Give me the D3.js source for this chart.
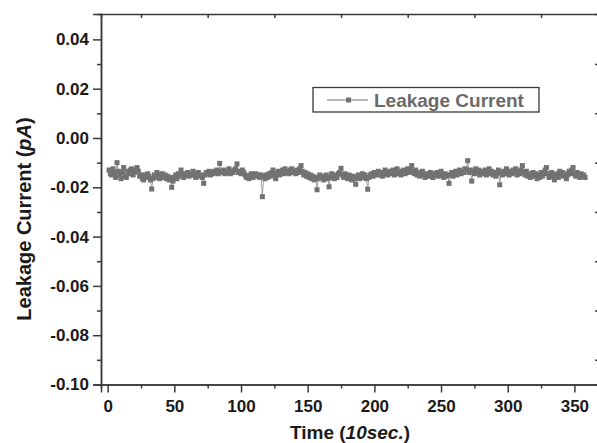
<!DOCTYPE html>
<html>
<head>
<meta charset="utf-8">
<script src="https://cdn.jsdelivr.net/npm/d3@7"></script>
<style>
  body { margin: 0; background: #fff; }
  svg { display: block; font-family: "Liberation Sans", Arial, sans-serif; }
  .axis path, .axis line { stroke: #3a3a3a; stroke-width: 1.5px; }
  .axis text { font-size: 17px; font-weight: bold; fill: #1a1a1a; }
</style>
</head>
<body>
<svg id="chart" width="597" height="443"></svg>
<script>
// time index, 10 s units
const times = d3.range(1, 359);

// leakage current (pA)
const current = [
  -0.0130,-0.0145,-0.0150,-0.0125,-0.0140,-0.0160,-0.0100,-0.0135,-0.0150,-0.0165,-0.0140,-0.0120,-0.0155,-0.0160,-0.0135,-0.0145,-0.0130,-0.0125,-0.0150,-0.0140,
  -0.0130,-0.0120,-0.0135,-0.0155,-0.0150,-0.0165,-0.0170,-0.0150,-0.0160,-0.0145,-0.0155,-0.0170,-0.0207,-0.0165,-0.0150,-0.0160,-0.0140,-0.0155,-0.0165,-0.0150,
  -0.0145,-0.0160,-0.0150,-0.0165,-0.0155,-0.0170,-0.0160,-0.0200,-0.0175,-0.0160,-0.0150,-0.0165,-0.0145,-0.0155,-0.0130,-0.0150,-0.0160,-0.0145,-0.0150,-0.0140,
  -0.0155,-0.0145,-0.0150,-0.0135,-0.0150,-0.0160,-0.0145,-0.0140,-0.0155,-0.0150,-0.0160,-0.0184,-0.0150,-0.0140,-0.0145,-0.0135,-0.0150,-0.0140,-0.0145,-0.0135,
  -0.0140,-0.0130,-0.0145,-0.0103,-0.0135,-0.0140,-0.0130,-0.0145,-0.0135,-0.0140,-0.0125,-0.0145,-0.0135,-0.0140,-0.0130,-0.0125,-0.0105,-0.0140,-0.0135,-0.0145,
  -0.0130,-0.0140,-0.0150,-0.0160,-0.0155,-0.0165,-0.0150,-0.0145,-0.0160,-0.0150,-0.0145,-0.0155,-0.0150,-0.0160,-0.0150,-0.0238,-0.0155,-0.0165,-0.0150,-0.0160,
  -0.0145,-0.0155,-0.0140,-0.0130,-0.0150,-0.0165,-0.0145,-0.0135,-0.0150,-0.0140,-0.0130,-0.0145,-0.0125,-0.0140,-0.0135,-0.0145,-0.0130,-0.0125,-0.0140,-0.0135,
  -0.0145,-0.0130,-0.0140,-0.0125,-0.0112,-0.0135,-0.0150,-0.0140,-0.0155,-0.0145,-0.0160,-0.0150,-0.0165,-0.0155,-0.0170,-0.0160,-0.0210,-0.0165,-0.0150,-0.0160,
  -0.0155,-0.0170,-0.0160,-0.0150,-0.0165,-0.0198,-0.0160,-0.0145,-0.0155,-0.0165,-0.0150,-0.0160,-0.0145,-0.0140,-0.0123,-0.0150,-0.0160,-0.0145,-0.0155,-0.0165,
  -0.0150,-0.0160,-0.0170,-0.0155,-0.0165,-0.0188,-0.0160,-0.0150,-0.0165,-0.0155,-0.0145,-0.0160,-0.0150,-0.0165,-0.0208,-0.0160,-0.0150,-0.0145,-0.0155,-0.0140,
  -0.0150,-0.0145,-0.0135,-0.0150,-0.0140,-0.0155,-0.0145,-0.0130,-0.0145,-0.0150,-0.0140,-0.0135,-0.0145,-0.0130,-0.0150,-0.0140,-0.0125,-0.0145,-0.0135,-0.0150,
  -0.0140,-0.0130,-0.0145,-0.0135,-0.0125,-0.0140,-0.0130,-0.0112,-0.0135,-0.0145,-0.0130,-0.0150,-0.0140,-0.0155,-0.0145,-0.0135,-0.0150,-0.0160,-0.0145,-0.0155,
  -0.0150,-0.0140,-0.0155,-0.0160,-0.0145,-0.0150,-0.0140,-0.0155,-0.0145,-0.0135,-0.0150,-0.0160,-0.0145,-0.0155,-0.0150,-0.0184,-0.0150,-0.0140,-0.0155,-0.0145,
  -0.0135,-0.0150,-0.0140,-0.0130,-0.0145,-0.0135,-0.0140,-0.0125,-0.0130,-0.0092,-0.0140,-0.0130,-0.0175,-0.0135,-0.0145,-0.0125,-0.0140,-0.0130,-0.0150,-0.0140,
  -0.0135,-0.0145,-0.0130,-0.0150,-0.0140,-0.0125,-0.0145,-0.0135,-0.0150,-0.0140,-0.0155,-0.0145,-0.0130,-0.0190,-0.0140,-0.0150,-0.0135,-0.0145,-0.0125,-0.0140,
  -0.0150,-0.0135,-0.0145,-0.0130,-0.0140,-0.0125,-0.0150,-0.0135,-0.0145,-0.0130,-0.0112,-0.0140,-0.0150,-0.0135,-0.0155,-0.0145,-0.0160,-0.0150,-0.0140,-0.0155,
  -0.0145,-0.0165,-0.0150,-0.0160,-0.0140,-0.0155,-0.0145,-0.0130,-0.0120,-0.0145,-0.0160,-0.0150,-0.0140,-0.0155,-0.0170,-0.0150,-0.0145,-0.0160,-0.0135,-0.0150,
  -0.0140,-0.0155,-0.0145,-0.0165,-0.0150,-0.0135,-0.0145,-0.0130,-0.0120,-0.0145,-0.0155,-0.0140,-0.0150,-0.0160,-0.0145,-0.0155,-0.0150,-0.0160
];

const xMajorTicks = [0, 50, 100, 150, 200, 250, 300, 350];
const xMinorTicks = [25, 75, 125, 175, 225, 275, 325];
const yMajorTicks = [-0.10, -0.08, -0.06, -0.04, -0.02, 0.00, 0.02, 0.04];
const yMinorTicks = [-0.09, -0.07, -0.05, -0.03, -0.01, 0.01, 0.03];
const seriesName = "Leakage Current";

const plotL = 101, plotR = 600, plotT = 14, plotB = 384.5;

const svg = d3.select("#chart");

const x = d3.scaleLinear().domain([-5, 369.2]).range([plotL, plotR]);
const y = d3.scaleLinear().domain([-0.10, 0.0503]).range([plotB, plotT]);

// bottom axis
svg.append("g")
  .attr("class", "axis")
  .attr("transform", "translate(0," + plotB + ")")
  .call(d3.axisBottom(x).tickValues(xMajorTicks).tickSizeOuter(0).tickSize(8).tickPadding(7).tickFormat(d3.format("d")));
svg.append("g")
  .attr("class", "axis")
  .attr("transform", "translate(0," + plotB + ")")
  .call(d3.axisBottom(x).tickValues(xMinorTicks).tickSizeOuter(0).tickSize(4).tickFormat(""));

// left axis
svg.append("g")
  .attr("class", "axis")
  .attr("transform", "translate(" + plotL + ",0)")
  .call(d3.axisLeft(y).tickValues(yMajorTicks).tickSizeOuter(0).tickSize(8).tickPadding(4).tickFormat(d3.format(".2f")))
  .selectAll("text").text(d => d3.format(".2f")(d).replace("−", "-"));
svg.append("g")
  .attr("class", "axis")
  .attr("transform", "translate(" + plotL + ",0)")
  .call(d3.axisLeft(y).tickValues(yMinorTicks).tickSizeOuter(0).tickSize(4).tickFormat(""));

// top and right frame, minor ticks inside
svg.append("g")
  .attr("class", "axis")
  .attr("transform", "translate(0," + plotT + ")")
  .call(d3.axisTop(x).tickValues(xMinorTicks).tickSizeOuter(0).tickSize(-4).tickFormat(""));
svg.append("g")
  .attr("class", "axis")
  .attr("transform", "translate(" + plotR + ",0)")
  .call(d3.axisRight(y).tickValues(yMinorTicks).tickSizeOuter(0).tickSize(-5).tickFormat(""));

// data
const pts = times.map((t, i) => [t, current[i]]);
svg.append("path")
  .datum(pts)
  .attr("fill", "none")
  .attr("stroke", "#8a8a8a")
  .attr("stroke-width", 0.8)
  .attr("d", d3.line().x(d => x(d[0])).y(d => y(d[1])));

const ms = 5;
svg.append("g")
  .selectAll("rect")
  .data(pts)
  .join("rect")
  .attr("x", d => x(d[0]) - ms / 2)
  .attr("y", d => y(d[1]) - ms / 2)
  .attr("width", ms)
  .attr("height", ms)
  .attr("fill", "#727272");

// legend
const lg = svg.append("g");
lg.append("rect")
  .attr("x", 313).attr("y", 87.5).attr("width", 226).attr("height", 24.5)
  .attr("fill", "#fff").attr("stroke", "#3a3a3a").attr("stroke-width", 1.3);
lg.append("line")
  .attr("x1", 327).attr("x2", 368).attr("y1", 100).attr("y2", 100)
  .attr("stroke", "#777").attr("stroke-width", 1.2);
lg.append("rect")
  .attr("x", 346).attr("y", 97.5).attr("width", ms).attr("height", ms)
  .attr("fill", "#727272");
lg.append("text")
  .attr("x", 374).attr("y", 106.5)
  .attr("font-size", 19).attr("font-weight", "bold").attr("fill", "#6a6a6a")
  .text(seriesName);

// axis titles
const xt = svg.append("text")
  .attr("x", 350).attr("y", 439)
  .attr("text-anchor", "middle")
  .attr("font-size", 19).attr("font-weight", "bold").attr("fill", "#1a1a1a");
xt.append("tspan").text("Time (");
xt.append("tspan").attr("font-style", "italic").text("10sec.");
xt.append("tspan").text(")");

const yt = svg.append("text")
  .attr("transform", "translate(31,219) rotate(-90)")
  .attr("text-anchor", "middle")
  .attr("font-size", 20).attr("font-weight", "bold").attr("fill", "#1a1a1a");
yt.append("tspan").text("Leakage Current (");
yt.append("tspan").attr("font-style", "italic").text("pA");
yt.append("tspan").text(")");
</script>
</body>
</html>
